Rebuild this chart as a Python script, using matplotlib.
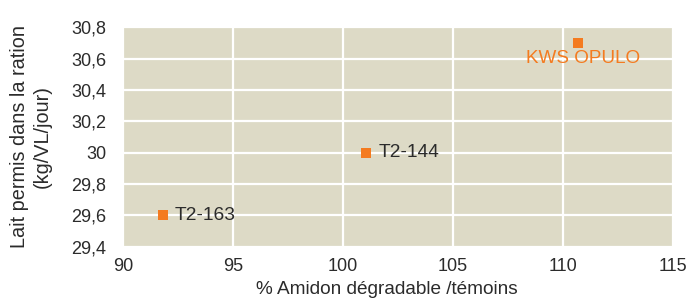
import matplotlib
matplotlib.use("Agg")
import matplotlib.pyplot as plt

plt.rcParams['font.family'] = ['Liberation Sans', 'DejaVu Sans']

names = ["T2-163", "T2-144", "KWS OPULO"]
amidon = [91.8, 101.05, 110.7]
lait = [29.6, 30.0, 30.7]
xticks = [90, 95, 100, 105, 110, 115]
yticks = [29.4, 29.6, 29.8, 30.0, 30.2, 30.4, 30.6, 30.8]
ytick_labels = ["29,4", "29,6", "29,8", "30", "30,2", "30,4", "30,6", "30,8"]

orange = "#F47B20"
bg = "#DDDAC6"
txt = "#2B2B2B"

fig = plt.figure(figsize=(6.89, 2.98), dpi=100)
ax = fig.add_axes([123/689, 1-246.7/298, (672.7-123)/689, (246.7-27.3)/298])
ax.set_facecolor(bg)
ax.set_xlim(90, 115)
ax.set_ylim(29.4, 30.8)
ax.set_xticks(xticks)
ax.set_yticks(yticks)
ax.set_yticklabels(ytick_labels)
ax.grid(True, color="white", linewidth=1.6)
ax.set_axisbelow(True)
for s in ax.spines.values():
    s.set_visible(False)
ax.tick_params(axis='both', length=0, labelsize=13, colors=txt)
ax.tick_params(axis='y', pad=12)
ax.tick_params(axis='x', pad=8)

ax.scatter(amidon, lait, marker='s', s=52, color=orange, zorder=3, linewidths=0)

for n, x, y in zip(names, amidon, lait):
    if n == "KWS OPULO":
        ax.annotate(n, (x, y), xytext=(3.2, -11.5), textcoords='offset points',
                    ha='center', va='center', fontsize=13.6, color=orange)
    else:
        ax.annotate(n, (x, y), xytext=(9, 0), textcoords='offset points',
                    ha='left', va='center', fontsize=13.8, color=txt)

fig.text(31/689, 1-136.5/298, "Lait permis dans la ration\n(kg/VL/jour)",
         rotation=90, ha='center', va='center', multialignment='center',
         fontsize=14.3, color=txt, linespacing=1.25)
fig.text(387/689, 1-289/298, "% Amidon dégradable /témoins",
         ha='center', va='center', fontsize=13.7, color=txt)

fig.savefig("out.png", dpi=100)
